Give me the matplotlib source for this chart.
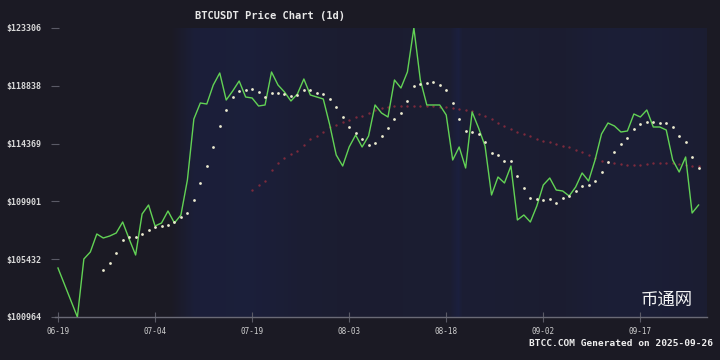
import numpy as np
import pandas as pd
import matplotlib
matplotlib.use("Agg")
import matplotlib.pyplot as plt
import matplotlib.transforms as mtransforms

start = pd.Timestamp("2025-06-19")
days = pd.date_range(start, periods=100)

# close price, day index -> value (days 1 and 2 have no point)
close_idx = [0] + list(range(3, 100))
close = [
    104752, 100964, 105448, 105989, 107381, 107071, 107226, 107458, 108308, 106994,
    105757, 108927, 109623, 107999, 108231, 109159, 108231, 108850, 111555, 116271,
    117508, 117431, 118900, 119828, 117740, 118436, 119209, 117972, 117895, 117276,
    117354, 119905, 118900, 118359, 117663, 118204, 119364, 118127, 117972, 117818,
    115808, 113488, 112638, 114107, 115034, 114107, 114957, 117354, 116735, 116426,
    119286, 118668, 119905, 123306, 119286, 117354, 117354, 117354, 116581, 113102,
    114107, 112483, 116813, 115576, 114184, 110396, 111787, 111324, 112638, 108463,
    108850, 108308, 109545, 111169, 111710, 110782, 110705, 110319, 111014, 112097,
    111478, 113102, 115112, 115962, 115730, 115266, 115344, 116658, 116426, 116967,
    115653, 115653, 115421, 113102, 112174, 113334, 109004, 109623,
]

# short moving average, from day 7
ma_short_start = 7
ma_short = [
    104598, 105139, 105912, 106917, 107149, 107149, 107381, 107690, 107922, 107999,
    108077, 108308, 108695, 109004, 110009, 111324, 112638, 114107, 115730, 116967,
    117972, 118436, 118513, 118591, 118359, 117972, 118281, 118281, 118204, 118050,
    118127, 118513, 118513, 118281, 118204, 117818, 117199, 116426, 115653, 115189,
    114725, 114261, 114416, 114957, 115576, 116271, 116735, 117663, 118823, 118977,
    119055, 119132, 118900, 118513, 117508, 116271, 115344, 115266, 115112, 114493,
    113643, 113488, 113024, 113024, 111865, 110937, 110164, 110087, 110009, 110087,
    109777, 110164, 110319, 110705, 111092, 111169, 111478, 112174, 112947, 113720,
    114339, 114802, 115498, 115885, 116039, 116039, 115962, 115962, 115653, 114957,
    114493, 113334, 112483,
]

# long moving average, from day 30
ma_long_start = 30
ma_long = [
    110782, 111169, 111478, 112329, 112870, 113256, 113566, 113797, 114261, 114725,
    114957, 115266, 115653, 115808, 116039, 116194, 116426, 116503, 116735, 116967,
    117122, 117199, 117276, 117276, 117276, 117276, 117276, 117276, 117276, 117199,
    117199, 117122, 117044, 116967, 116890, 116658, 116503, 116271, 115962, 115730,
    115498, 115266, 115112, 114957, 114725, 114571, 114493, 114339, 114184, 114107,
    113875, 113720, 113488, 113256, 113024, 112947, 112870, 112792, 112715, 112715,
    112715, 112792, 112870, 112870, 112870, 112870, 112792, 112715, 112638, 112638,
]

y_ticks = [100964, 105432, 109901, 114369, 118838, 123306]
x_ticks = ["06-19", "07-04", "07-19", "08-03", "08-18", "09-02", "09-17"]

bg = "#1b1a24"
fig = plt.figure(figsize=(7.2, 3.6), dpi=100, facecolor=bg)
ax = fig.add_axes([55 / 720, 43 / 360, 652 / 720, 289 / 360])
ax.set_facecolor(bg)

# subtle blue column shading behind the plot
px = np.arange(55, 707)
shade = np.interp(px, [55, 170, 195, 250, 300, 350, 450, 458, 462, 480, 560, 590, 640, 707],
                  [0, 0, 0.6, 0.65, 0.45, 0.35, 0.4, 0.75, 0.45, 0.45, 0.35, 0.5, 0.55, 0.4])
img = np.zeros((1, len(px), 4))
img[0, :, :3] = np.array([0x1c, 0x2a, 0x6a]) / 255
img[0, :, 3] = shade * 0.5
ax.imshow(img, extent=(0, 1, 0, 1), transform=ax.transAxes, aspect="auto", zorder=0)

close_dates = days[close_idx]
ax.plot(close_dates, close, color="#62d255", lw=1.0, zorder=3)
ax.scatter(days[ma_short_start:ma_short_start + len(ma_short)], ma_short,
           s=4, color="#ecebd0", lw=0, zorder=4)
ax.scatter(days[ma_long_start:ma_long_start + len(ma_long)], ma_long,
           s=3, color="#7c2a3c", lw=0, zorder=2)

ax.set_ylim(y_ticks[0], y_ticks[-1])
ax.set_xlim(start - pd.Timedelta(days=0.46), start + pd.Timedelta(days=100.3))

ax.set_yticks(y_ticks)
ax.set_yticklabels([f"${v}" for v in y_ticks], family="DejaVu Sans Mono",
                   fontweight="bold", fontsize=6, color="#d8d8d8")
tick_dates = [start + pd.Timedelta(days=15 * i) for i in range(len(x_ticks))]
ax.set_xticks(tick_dates)
ax.set_xticklabels(x_ticks, family="DejaVu Sans Mono", fontsize=5.5, color="#cfcfcf")
for lab in ax.get_xticklabels():
    lab.set_transform(lab.get_transform() + mtransforms.ScaledTranslation(-8 / 100, 0, fig.dpi_scale_trans))

ax.tick_params(axis="y", length=6, width=0.8, color="#5a5a66", direction="inout", pad=6.5)
ax.tick_params(axis="x", length=7, width=0.8, color="#5a5a66", direction="inout", pad=4)
for s in ["top", "right", "left"]:
    ax.spines[s].set_visible(False)
ax.spines["bottom"].set_color("#6a6a76")
ax.spines["bottom"].set_linewidth(1)

fig.text(270 / 720, 1 - 16 / 360, "BTCUSDT Price Chart (1d)", ha="center", va="center",
         family="DejaVu Sans Mono", fontweight="bold", fontsize=7.5, color="#e8e8e8")
fig.text(713 / 720, 1 - 344 / 360, "BTCC.COM Generated on 2025-09-26", ha="right", va="center",
         family="DejaVu Sans Mono", fontweight="bold", fontsize=6.8, color="#f0f0f0")
fig.text(667 / 720, 1 - 300 / 360, "币通网", ha="center", va="center",
         family=["Noto Sans CJK SC", "DejaVu Sans"], fontsize=12.5, color="#f4f4f4")

fig.savefig("out.png", dpi=100, facecolor=bg)
